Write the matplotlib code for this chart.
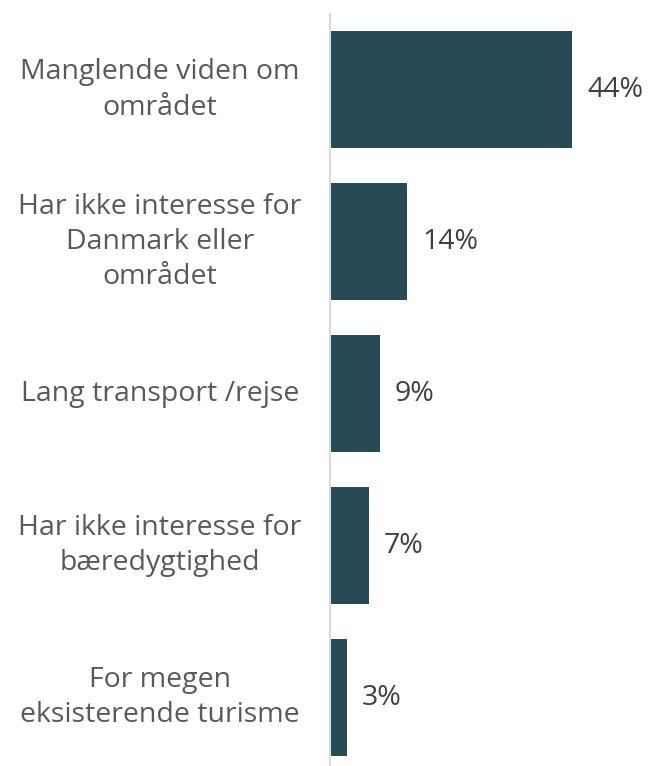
import matplotlib.pyplot as plt

categories = [
    "Manglende viden om\nområdet",
    "Har ikke interesse for\nDanmark eller\nområdet",
    "Lang transport /rejse",
    "Har ikke interesse for\nbæredygtighed",
    "For megen\neksisterende turisme",
]
values = [44, 14, 9, 7, 3]
value_labels = ["44%", "14%", "9%", "7%", "3%"]

BAR = '#264b57'
TEXT = '#595959'

plt.rcParams['font.family'] = ['Open Sans', 'DejaVu Sans']

W, H = 651, 766
fig = plt.figure(figsize=(W / 100, H / 100), dpi=100)
ax = fig.add_axes([330 / W, 0, (W - 330) / W, (766 - 14) / H])

ypos = list(range(len(values)))
ax.barh(ypos, values, height=0.77, color=BAR)
ax.set_xlim(0, (W - 330) / 5.5)
ax.set_ylim(4.45, -0.5)

for y, v, lab in zip(ypos, values, value_labels):
    ax.annotate(lab, xy=(v, y), xytext=(11, 0), textcoords='offset points',
                ha='left', va='center', fontsize=20.5, color='#404040')

for y, cat in zip(ypos, categories):
    ax.annotate(cat, xy=(0, y), xycoords=('axes fraction', 'data'),
                xytext=(160 - 330, 0), textcoords='offset pixels',
                ha='center', va='center', fontsize=20.5, color=TEXT,
                multialignment='center', linespacing=1.35)

for s in ['top', 'right', 'bottom']:
    ax.spines[s].set_visible(False)
ax.spines['left'].set_color('#d9d9d9')
ax.spines['left'].set_linewidth(1.5)
ax.set_xticks([])
ax.set_yticks([])

fig.savefig('out.png', dpi=100, facecolor='white')
